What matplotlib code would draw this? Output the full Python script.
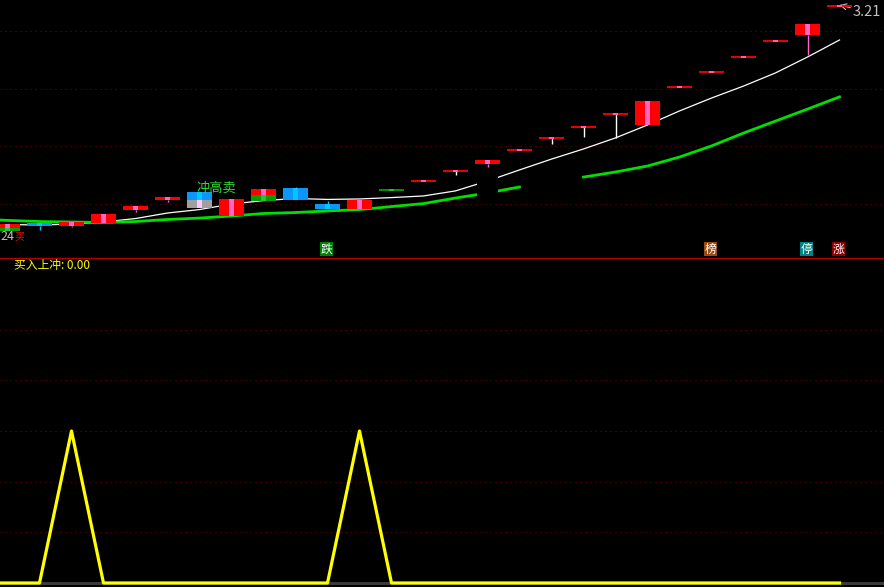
import numpy as np
import matplotlib
matplotlib.use('Agg')
import matplotlib.pyplot as plt
from matplotlib.lines import Line2D

plt.rcParams['font.family'] = ['Noto Sans CJK SC', 'DejaVu Sans']

# --- price bars (index 0 .. 26) ---
opens  = [2.245, 2.267, 2.254, 2.267, 2.323, 2.366, 2.401, 2.297, 2.388, 2.418,
          2.349, 2.327, 2.410, 2.449, 2.492, 2.523, 2.584, 2.636, 2.683, 2.740,
          2.692, 2.857, 2.922, 2.987, 3.057, 3.083, 3.210]
closes = [2.262, 2.254, 2.271, 2.306, 2.340, 2.380, 2.366, 2.371, 2.414, 2.366,
          2.327, 2.366, 2.410, 2.449, 2.492, 2.540, 2.584, 2.636, 2.683, 2.740,
          2.796, 2.857, 2.922, 2.987, 3.057, 3.130, 3.210]
highs  = [2.262, 2.267, 2.271, 2.306, 2.340, 2.380, 2.401, 2.371, 2.414, 2.423,
          2.362, 2.366, 2.410, 2.449, 2.492, 2.540, 2.584, 2.636, 2.683, 2.740,
          2.796, 2.857, 2.922, 2.987, 3.057, 3.130, 3.210]
lows   = [2.245, 2.236, 2.249, 2.267, 2.314, 2.358, 2.366, 2.297, 2.388, 2.366,
          2.327, 2.327, 2.410, 2.449, 2.475, 2.510, 2.584, 2.610, 2.640, 2.636,
          2.692, 2.857, 2.922, 2.987, 3.057, 2.996, 3.210]
kinds  = ['up', 'dn', 'up', 'up', 'up', 'up', 'dn', 'up', 'up', 'dn',
          'dn', 'up', 'gn', 'up', 'up', 'up', 'up', 'up', 'up', 'up',
          'up', 'up', 'up', 'up', 'up', 'up', 'up']

# extra coloured sticks under some bars (index, low, high, kind)
sticks = [(0, 2.232, 2.245, 'gn'), (6, 2.332, 2.366, 'gy'), (8, 2.362, 2.388, 'gn')]

# --- lines, index -1 .. 26 ---
line_x = list(range(-1, 27))
ma_white = [np.nan, 2.260, 2.258, 2.262, 2.271, 2.286, 2.310, 2.325, 2.349, 2.364,
            2.373, 2.369, 2.371, 2.377, 2.384, 2.406, 2.449, 2.497, 2.544, 2.588,
            2.636, 2.692, 2.753, 2.809, 2.861, 2.918, 2.987, 3.061]
ma_green = [2.284, 2.278, 2.273, 2.271, 2.269, 2.273, 2.282, 2.288, 2.297, 2.308,
            2.312, 2.319, 2.325, 2.338, 2.351, 2.375, 2.397, 2.423, np.nan, 2.466,
            2.488, 2.514, 2.553, 2.601, 2.657, 2.709, 2.761, 2.814]
line_gap = [15]

# --- lower indicator ---
buy_up = [0, 0, 0, 1, 0, 0, 0, 0, 0, 0, 0, 0, 1, 0, 0,
          0, 0, 0, 0, 0, 0, 0, 0, 0, 0, 0, 0, 0]

signals = [(10, '跌', '#008000'), (22, '榜', '#9A4A10'), (25, '停', '#008080'), (26, '涨', '#8B0000')]
price_grid = [2.35, 2.60, 2.85, 3.10]
ind_grid = [1/3, 2/3, 1.0, 4/3, 5/3]

colors = {'up': ('#FF0000', '#FF66CC'), 'dn': ('#0A96FA', '#00C8FF'),
          'gn': ('#00A000', '#30C030'), 'gy': ('#A0A0A0', '#FFC8FF')}
wick_colors = {'up': '#FF66CC', 'dn': '#00C8FF', 'gn': '#00A000'}

W, H = 884, 587
fig = plt.figure(figsize=(W / 100, H / 100), dpi=100, facecolor='black')
ax1 = fig.add_axes([0, 1 - 257 / H, 1, 257 / H])
ax2 = fig.add_axes([0, 0, 1, 329 / H])
x0 = -7.5 / 32
x1 = (W - 7.5) / 32
for ax in (ax1, ax2):
    ax.set_facecolor('black')
    ax.set_xlim(x0, x1)
    ax.axis('off')
ax1.set_ylim(2.1191, 3.2345)
ax2.set_ylim(-0.0263, 2.138)

dots = (0, (1, 3.5))
for g in price_grid:
    ax1.axhline(g, color='#7A0000', linestyle=dots, linewidth=0.8, zorder=0)
for g in ind_grid:
    ax2.axhline(g, color='#7A0000', linestyle=dots, linewidth=0.8, zorder=0)

# moving lines
ax1.plot(line_x, ma_white, color='white', linewidth=0.9, zorder=2)
ax1.plot(line_x, ma_green, color='#00E000', linewidth=2.0, zorder=2)
for k in line_gap:
    ax1.bar(k, 0.12, bottom=2.36, width=0.66, color='black', linewidth=0, zorder=3)

bw = 0.78
sw = 0.16


def draw_body(k, lo, hi, kind):
    main, stripe = colors[kind]
    if hi - lo < 0.002:
        ax1.hlines(hi, k - bw / 2, k + bw / 2, color=main, linewidth=1.3, zorder=5)
        ax1.hlines(hi, k - sw / 2, k + sw / 2, color=stripe, linewidth=1.3, zorder=6)
    else:
        ax1.bar(k, hi - lo, bottom=lo, width=bw, color=main, linewidth=0, zorder=5)
        ax1.bar(k, hi - lo, bottom=lo, width=sw, color=stripe, linewidth=0, zorder=6)


for k in range(len(opens)):
    o, c, h, l, kind = opens[k], closes[k], highs[k], lows[k], kinds[k]
    top, bot = max(o, c), min(o, c)
    wc = wick_colors[kind]
    if top - bot < 0.002 and l < bot:
        wc = 'white'
    if l < bot:
        ax1.vlines(k, l, bot, color=wc, linewidth=1.0, zorder=4)
    if h > top:
        ax1.vlines(k, top, h, color=wc, linewidth=1.0, zorder=4)
    draw_body(k, bot, top, kind)

for k, lo, hi, kind in sticks:
    draw_body(k, lo, hi, kind)

# texts in upper panel
ax1.text(6.53, 2.418, '冲高卖', color='#30DD30', fontsize=9.5, ha='center', va='center', zorder=7)
fig.text(0 / W, 1 - 236 / H, '24', color='#C0C0C0', fontsize=9, ha='left', va='center')
fig.text(14 / W, 1 - 236 / H, '买', color='#FF0000', fontsize=7, ha='left', va='center')
ax1.annotate('3.21', xy=(26.0, 3.213), xytext=(853, H - 12), textcoords='figure pixels',
             color='#C0C0C0', fontsize=10.5, ha='left', va='center',
             arrowprops=dict(arrowstyle='->', color='#C0C0C0', lw=0.8, shrinkA=0, shrinkB=0))
for k, txt, bg in signals:
    ax1.text(k - 0.03, 0.031, txt, transform=ax1.get_xaxis_transform(), color='white',
             fontsize=8.5, ha='center', va='center', zorder=8,
             bbox=dict(boxstyle='square,pad=0.08', fc=bg, ec='none'))

# divider
fig.add_artist(Line2D([0, 1], [1 - 257.5 / H, 1 - 257.5 / H], color='#B00000', linewidth=1.0))

# lower indicator
ax2.axhline(0, color='#3A3A3A', linewidth=2.2, zorder=1)
ax2.plot(line_x, buy_up, color='#FFFF00', linewidth=2.3, zorder=3)
fig.text(14 / W, 1 - 266 / H, '买入上冲: 0.00', color='#FFFF00', fontsize=8.5, ha='left', va='center')

fig.savefig('out.png', dpi=100, facecolor='black')
